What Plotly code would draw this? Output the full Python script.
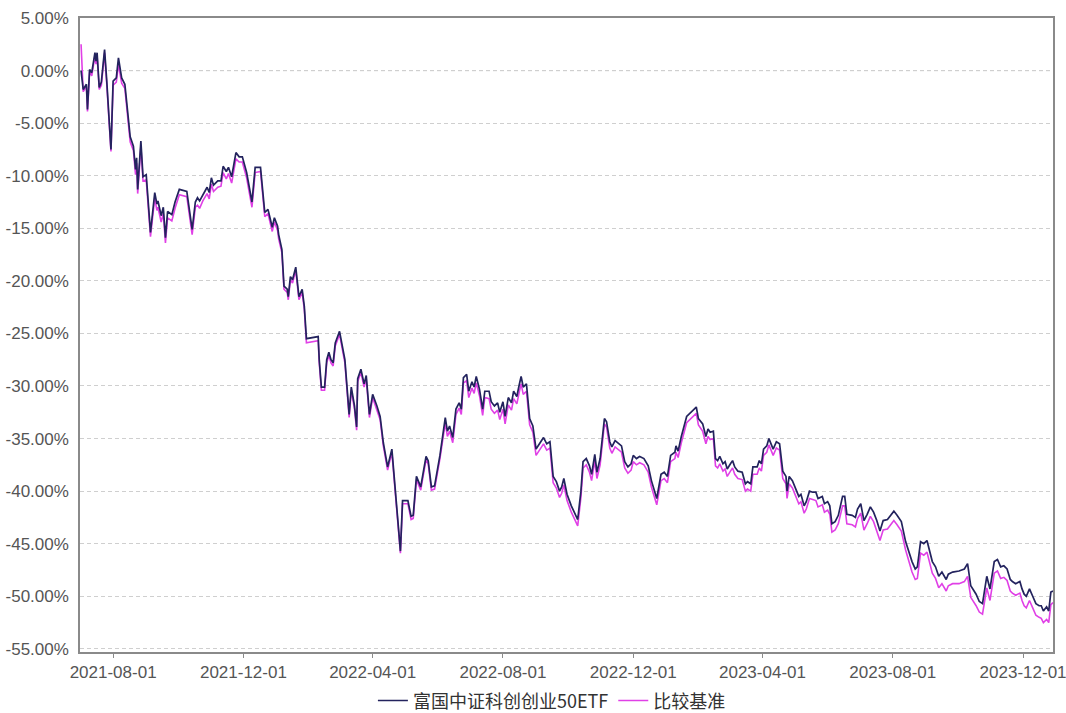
import plotly.graph_objects as go

dates = [
"2021-07-02","2021-07-04","2021-07-07","2021-07-08","2021-07-10","2021-07-12","2021-07-15","2021-07-16","2021-07-17","2021-07-19",
"2021-07-21","2021-07-24","2021-07-26","2021-07-30","2021-08-01","2021-08-04","2021-08-06","2021-08-09","2021-08-12","2021-08-17",
"2021-08-20","2021-08-22","2021-08-23","2021-08-24","2021-08-27","2021-08-29","2021-09-01","2021-09-05","2021-09-09","2021-09-11",
"2021-09-12","2021-09-15","2021-09-17","2021-09-19","2021-09-21","2021-09-25","2021-09-28","2021-10-02","2021-10-09","2021-10-14",
"2021-10-17","2021-10-19","2021-10-21","2021-10-24","2021-10-28","2021-10-30","2021-11-01","2021-11-03","2021-11-07","2021-11-10",
"2021-11-12","2021-11-15","2021-11-17","2021-11-20","2021-11-24","2021-11-27","2021-11-30","2021-12-04","2021-12-09","2021-12-12",
"2021-12-17","2021-12-21","2021-12-24","2021-12-28","2021-12-30","2022-01-02","2022-01-03","2022-01-06","2022-01-08","2022-01-11",
"2022-01-12","2022-01-14","2022-01-16","2022-01-19","2022-01-22","2022-01-25","2022-01-27","2022-01-29","2022-02-09","2022-02-10",
"2022-02-12","2022-02-15","2022-02-17","2022-02-19","2022-02-21","2022-02-23","2022-02-25","2022-03-01","2022-03-06","2022-03-10",
"2022-03-12","2022-03-15","2022-03-17","2022-03-18","2022-03-21","2022-03-24","2022-03-26","2022-03-29","2022-04-01","2022-04-05",
"2022-04-08","2022-04-11","2022-04-14","2022-04-15","2022-04-19","2022-04-23","2022-04-27","2022-04-29","2022-05-04","2022-05-07",
"2022-05-09","2022-05-12","2022-05-16","2022-05-21","2022-05-23","2022-05-26","2022-05-29","2022-06-03","2022-06-08","2022-06-10",
"2022-06-12","2022-06-15","2022-06-18","2022-06-21","2022-06-23","2022-06-25","2022-06-28","2022-06-30","2022-07-03","2022-07-05",
"2022-07-07","2022-07-10","2022-07-13","2022-07-15","2022-07-19","2022-07-21","2022-07-24","2022-07-27","2022-07-29","2022-08-01",
"2022-08-03","2022-08-06","2022-08-09","2022-08-11","2022-08-14","2022-08-16","2022-08-18","2022-08-20","2022-08-23","2022-08-26",
"2022-08-29","2022-09-01","2022-09-04","2022-09-08","2022-09-11","2022-09-14","2022-09-17","2022-09-20","2022-09-23","2022-09-25",
"2022-09-27","2022-09-30","2022-10-04","2022-10-10","2022-10-13","2022-10-15","2022-10-18","2022-10-21","2022-10-23","2022-10-26",
"2022-10-28","2022-10-31","2022-11-04","2022-11-06","2022-11-09","2022-11-11","2022-11-14","2022-11-17","2022-11-20","2022-11-23",
"2022-11-26","2022-11-29","2022-12-01","2022-12-04","2022-12-07","2022-12-11","2022-12-15","2022-12-18","2022-12-23","2022-12-27",
"2022-12-30","2023-01-02","2023-01-05","2023-01-09","2023-01-10","2023-01-12","2023-01-15","2023-01-20","2023-01-24","2023-01-29",
"2023-01-31","2023-02-04","2023-02-07","2023-02-09","2023-02-11","2023-02-14","2023-02-16","2023-02-18","2023-02-20","2023-02-23",
"2023-02-25","2023-02-27","2023-03-02","2023-03-04","2023-03-06","2023-03-09","2023-03-13","2023-03-16","2023-03-18","2023-03-21",
"2023-03-23","2023-03-27","2023-03-29","2023-03-31","2023-04-02","2023-04-05","2023-04-07","2023-04-09","2023-04-11","2023-04-14",
"2023-04-17","2023-04-20","2023-04-23","2023-04-24","2023-04-26","2023-04-29","2023-05-03","2023-05-05","2023-05-07","2023-05-10",
"2023-05-12","2023-05-15","2023-05-18","2023-05-21","2023-05-23","2023-05-27","2023-05-29","2023-06-01","2023-06-03","2023-06-05",
"2023-06-08","2023-06-11","2023-06-15","2023-06-17","2023-06-19","2023-06-24","2023-06-27","2023-06-29","2023-07-02","2023-07-03",
"2023-07-05","2023-07-08","2023-07-11","2023-07-14","2023-07-17","2023-07-20","2023-07-23","2023-07-27","2023-07-30","2023-08-02",
"2023-08-05","2023-08-09","2023-08-13","2023-08-16","2023-08-19","2023-08-22","2023-08-24","2023-08-27","2023-08-30","2023-09-02",
"2023-09-04","2023-09-07","2023-09-10","2023-09-13","2023-09-16","2023-09-20","2023-09-22","2023-09-26","2023-10-02","2023-10-07",
"2023-10-10","2023-10-13","2023-10-18","2023-10-21","2023-10-24","2023-10-28","2023-10-31","2023-11-04","2023-11-07","2023-11-10",
"2023-11-13","2023-11-16","2023-11-19","2023-11-21","2023-11-24","2023-11-28","2023-11-30","2023-12-02","2023-12-04","2023-12-07",
"2023-12-10","2023-12-13","2023-12-16","2023-12-18","2023-12-20","2023-12-23","2023-12-25","2023-12-27","2023-12-29",
]

fund = [
0.0,-1.8,-1.3,-3.7,0.1,-0.2,1.7,0.9,1.7,-1.6,
-1.1,2.0,-0.9,-7.5,-1.0,-0.7,1.2,-0.7,-1.3,-6.3,
-7.2,-9.4,-8.3,-11.3,-6.7,-10.1,-9.9,-15.4,-11.6,-12.7,
-12.4,-13.8,-13.0,-15.9,-13.4,-13.7,-12.5,-11.3,-11.5,-15.1,
-12.5,-12.1,-12.4,-11.8,-11.1,-11.6,-10.2,-10.9,-10.5,-10.5,
-9.1,-9.6,-9.2,-10.1,-7.8,-8.2,-8.2,-9.7,-12.5,-9.2,
-9.2,-13.5,-13.2,-14.9,-14.0,-14.8,-15.6,-17.0,-20.5,-20.8,
-21.5,-19.6,-19.9,-18.7,-21.5,-20.8,-22.4,-25.5,-25.3,-27.5,
-30.1,-30.1,-27.5,-26.8,-27.5,-27.8,-25.9,-24.8,-27.5,-32.7,
-30.1,-31.9,-33.9,-29.3,-28.4,-29.8,-29.0,-32.7,-30.8,-31.9,
-32.9,-35.4,-37.0,-37.7,-36.0,-40.5,-45.7,-40.9,-40.9,-42.4,
-42.3,-38.6,-39.6,-36.7,-37.1,-39.6,-39.5,-36.6,-33.0,-34.3,
-33.8,-34.9,-32.2,-31.6,-32.2,-29.2,-28.9,-30.5,-29.6,-30.1,
-29.1,-30.3,-32.2,-30.5,-30.5,-31.5,-31.9,-31.6,-32.5,-31.5,
-32.9,-31.1,-31.6,-30.5,-31.0,-30.0,-29.1,-30.1,-29.8,-33.1,
-33.8,-36.0,-35.5,-34.9,-35.5,-35.3,-38.6,-39.1,-40.0,-39.6,
-38.8,-40.3,-41.4,-42.7,-40.0,-37.2,-36.9,-37.6,-38.4,-36.5,
-38.2,-36.9,-33.1,-33.4,-35.3,-35.8,-35.2,-35.5,-35.7,-37.2,
-37.7,-37.4,-36.6,-36.9,-36.7,-36.9,-37.6,-39.0,-40.7,-38.4,
-38.2,-38.6,-36.6,-36.3,-35.7,-36.2,-34.8,-32.9,-32.5,-32.0,
-33.1,-33.6,-34.8,-34.1,-34.4,-34.3,-36.9,-37.1,-36.7,-37.4,
-37.2,-37.9,-37.4,-37.1,-37.7,-38.1,-38.2,-39.3,-39.1,-39.3,
-37.7,-37.7,-37.1,-37.4,-36.0,-35.7,-35.0,-35.5,-36.0,-35.3,
-35.5,-38.1,-38.6,-40.0,-38.6,-39.0,-40.1,-40.5,-40.3,-41.4,
-41.0,-40.0,-40.1,-40.1,-40.7,-40.5,-41.2,-41.0,-41.4,-43.1,
-42.9,-42.3,-40.5,-40.5,-42.2,-42.3,-42.5,-41.7,-41.2,-41.9,
-42.8,-42.2,-41.5,-42.0,-42.8,-43.8,-42.8,-42.7,-42.3,-41.9,
-42.3,-42.9,-44.8,-45.8,-46.7,-47.4,-47.2,-44.8,-45.0,-44.7,
-45.5,-46.7,-47.2,-48.1,-47.7,-48.4,-47.9,-47.7,-47.6,-47.4,
-46.9,-49.0,-49.8,-50.5,-50.7,-48.1,-49.3,-46.7,-46.5,-47.2,
-47.1,-47.4,-48.4,-48.6,-48.8,-48.6,-49.3,-49.8,-50.0,-49.3,
-50.0,-50.7,-50.9,-50.9,-51.4,-51.0,-51.4,-49.6,-49.5,
]

bench = [
2.5,-2.0,-1.5,-3.9,-0.1,-0.5,1.4,0.6,1.4,-1.8,
-1.4,1.7,-1.2,-7.7,-1.4,-1.1,0.6,-1.2,-1.7,-6.8,
-7.6,-9.9,-8.8,-11.7,-7.2,-10.5,-10.4,-15.8,-12.1,-13.3,
-13.0,-14.4,-13.6,-16.4,-14.0,-14.3,-13.1,-11.8,-12.0,-15.6,
-13.0,-12.8,-13.1,-12.4,-11.7,-12.2,-10.8,-11.5,-11.1,-11.0,
-9.7,-10.3,-9.8,-10.7,-8.4,-8.7,-8.7,-10.2,-13.0,-9.7,
-9.6,-13.9,-13.6,-15.3,-14.4,-15.2,-16.0,-17.3,-20.8,-21.1,
-21.8,-19.9,-20.2,-19.0,-21.8,-21.1,-22.7,-25.9,-25.7,-27.8,
-30.4,-30.4,-27.8,-27.1,-27.8,-28.1,-26.2,-25.1,-27.8,-33.0,
-30.4,-32.2,-34.2,-29.6,-28.7,-30.1,-29.3,-33.0,-31.1,-32.2,
-33.2,-35.7,-37.3,-38.0,-36.3,-40.8,-45.9,-41.2,-41.2,-42.7,
-42.6,-38.9,-39.9,-37.0,-37.4,-39.9,-39.8,-36.9,-33.5,-34.8,
-34.3,-35.4,-32.7,-32.1,-32.7,-29.7,-29.5,-31.1,-30.2,-30.7,
-29.7,-30.9,-32.8,-31.1,-31.2,-32.2,-32.6,-32.3,-33.2,-32.2,
-33.6,-31.8,-32.3,-31.2,-31.7,-30.7,-29.8,-30.8,-30.5,-33.7,
-34.4,-36.6,-36.1,-35.5,-36.1,-35.9,-39.2,-39.7,-40.6,-40.2,
-39.4,-40.9,-42.0,-43.3,-40.6,-37.8,-37.5,-38.2,-39.0,-37.1,
-38.8,-37.5,-33.6,-33.9,-35.9,-36.4,-35.8,-36.1,-36.3,-37.8,
-38.3,-38.0,-37.2,-37.5,-37.3,-37.5,-38.2,-39.6,-41.3,-39.0,
-38.8,-39.2,-37.2,-36.9,-36.3,-36.8,-35.4,-33.5,-33.1,-32.6,
-33.7,-34.3,-35.5,-34.8,-35.1,-35.0,-37.6,-37.8,-37.4,-38.1,
-37.9,-38.6,-38.1,-37.8,-38.4,-38.8,-38.9,-40.0,-39.8,-40.0,
-38.4,-38.4,-37.8,-38.1,-36.6,-36.3,-35.6,-36.1,-36.6,-35.9,
-36.1,-38.8,-39.3,-40.7,-39.3,-39.7,-40.8,-41.2,-41.0,-42.1,
-41.7,-40.7,-40.8,-40.9,-41.5,-41.3,-42.0,-41.8,-42.2,-43.9,
-43.7,-43.1,-41.4,-41.4,-43.1,-43.2,-43.4,-42.6,-42.1,-42.8,
-43.7,-43.1,-42.4,-42.9,-43.7,-44.7,-43.7,-43.6,-43.2,-42.8,
-43.2,-43.8,-45.6,-46.7,-47.7,-48.4,-48.3,-45.9,-46.1,-45.8,
-46.6,-47.8,-48.3,-49.2,-48.8,-49.5,-49.0,-48.8,-48.8,-48.6,
-48.1,-50.1,-50.9,-51.5,-51.7,-49.2,-50.4,-47.8,-47.6,-48.3,
-48.2,-48.5,-49.5,-49.7,-49.9,-49.7,-50.4,-50.9,-51.1,-50.4,
-51.1,-51.8,-52.0,-52.1,-52.5,-52.2,-52.5,-50.8,-50.6,
]

series_names = ["富国中证科创创业50ETF", "比较基准"]
tick_dates = ["2021-08-01", "2021-12-01", "2022-04-01", "2022-08-01",
              "2022-12-01", "2023-04-01", "2023-08-01", "2023-12-01"]
y_ticks = [5, 0, -5, -10, -15, -20, -25, -30, -35, -40, -45, -50, -55]
y_ticktext = [f"{v:.2f}%" for v in y_ticks]

fig = go.Figure()
fig.add_trace(go.Scatter(x=dates, y=bench, mode="lines", name=series_names[1],
                         line=dict(color="#e040e6", width=1.6)))
fig.add_trace(go.Scatter(x=dates, y=fund, mode="lines", name=series_names[0],
                         line=dict(color="#23235e", width=1.7)))

fig.add_shape(type="line", xref="paper", yref="y", x0=0, x1=1, y0=0, y1=0,
              line=dict(color="#6f6f6f", width=1, dash="4px,3px"), layer="below")

fig.update_layout(
    width=1066, height=713,
    margin=dict(l=80, r=13, t=18, b=61, autoexpand=False),
    paper_bgcolor="white", plot_bgcolor="white",
    font=dict(family="Liberation Sans, Arial, sans-serif", size=17, color="#555555"),
    showlegend=True,
    legend=dict(orientation="h", x=0.485, xanchor="center", y=-0.077, yanchor="middle",
                traceorder="reversed", itemwidth=30, bgcolor="rgba(0,0,0,0)",
                font=dict(family="Noto Sans CJK SC", size=18, color="#333333")),
    xaxis=dict(
        type="date", range=["2021-07-01", "2023-12-29"],
        tickvals=tick_dates, ticktext=tick_dates,
        showgrid=False, showline=True, linecolor="#8a8a8a", linewidth=1.5, mirror=True,
        ticks="outside", ticklen=4, tickcolor="#8a8a8a",
        ticklabeloverflow="allow",
        tickfont=dict(size=17, color="#555555"),
    ),
    yaxis=dict(
        range=[-55.3, 5.0], tickvals=y_ticks, ticktext=y_ticktext,
        showgrid=True, gridcolor="#cfcfcf", griddash="4px,3px", gridwidth=1,
        zeroline=False,
        showline=True, linecolor="#8a8a8a", linewidth=1.5, mirror=True,
        ticks="", ticklabelstandoff=6, ticklabeloverflow="allow",
        tickfont=dict(size=17, color="#555555"),
    ),
)

fig.write_html("out.html", config={"displayModeBar": False},
               post_script="document.body.style.margin='0';document.body.style.overflow='hidden';")
